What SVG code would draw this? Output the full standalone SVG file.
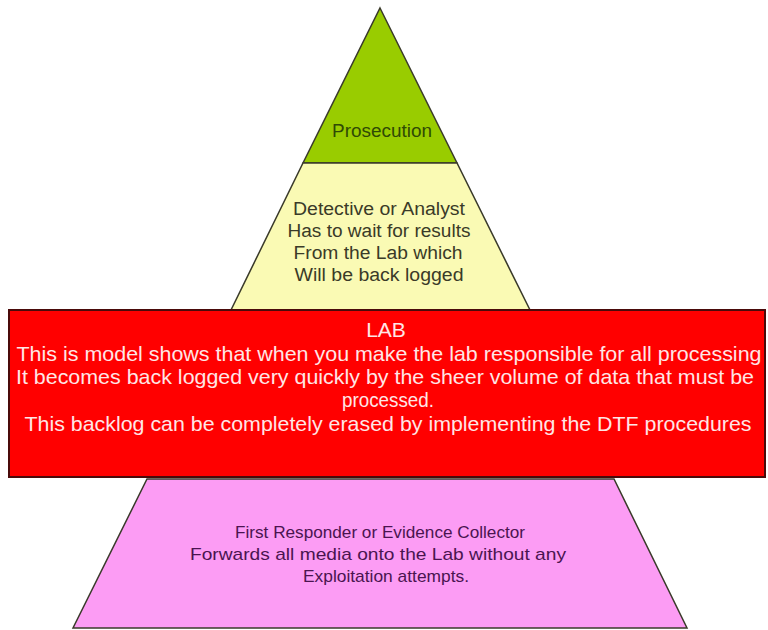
<svg xmlns="http://www.w3.org/2000/svg" width="768" height="630" viewBox="0 0 768 630">
<style>
.layer{stroke:#3a3a2a;stroke-width:1.5;stroke-linejoin:miter}
.t{font-family:"Liberation Sans",Arial,sans-serif;text-anchor:middle}
.g{font-size:18px;fill:#2f4a05}
.y{font-size:18px;fill:#3a3a28}
.r{font-size:21px;fill:#ffe6e6}
.p{font-size:17px;fill:#4a1450}
</style>
<rect width="768" height="630" fill="#ffffff"/>
<g id="prosecution">
<polygon class="layer" points="380,8 457,163 303,163" fill="#99cc00"/>
<text class="t g" x="382" y="137" textLength="100" lengthAdjust="spacingAndGlyphs">Prosecution</text>
</g>
<g id="detective">
<polygon class="layer" points="303,163 457,163 530,310 231,310" fill="#fafab4"/>
<text class="t y" x="379" y="215" textLength="172" lengthAdjust="spacingAndGlyphs">Detective or Analyst</text>
<text class="t y" x="379" y="237" textLength="183" lengthAdjust="spacingAndGlyphs">Has to wait for results</text>
<text class="t y" x="378" y="259" textLength="169" lengthAdjust="spacingAndGlyphs">From the Lab which</text>
<text class="t y" x="379" y="281" textLength="169" lengthAdjust="spacingAndGlyphs">Will be back logged</text>
</g>
<g id="first-responder">
<polygon class="layer" points="147,479 614,479 687,628 73,628" fill="#fc9cf4"/>
<text class="t p" x="380" y="538" textLength="290" lengthAdjust="spacingAndGlyphs">First Responder or Evidence Collector</text>
<text class="t p" x="378" y="560" textLength="376" lengthAdjust="spacingAndGlyphs">Forwards all media onto the Lab without any</text>
<text class="t p" x="386" y="582" textLength="166" lengthAdjust="spacingAndGlyphs">Exploitation attempts.</text>
</g>
<g id="lab">
<rect x="9" y="310" width="756" height="167" fill="#ff0000" stroke="#4a0a0a" stroke-width="2"/>
<text class="t r" x="386" y="337">LAB</text>
<text class="t r" x="389" y="361" textLength="745" lengthAdjust="spacingAndGlyphs">This is model shows that when you make the lab responsible for all processing</text>
<text class="t r" x="385" y="384" textLength="738" lengthAdjust="spacingAndGlyphs">It becomes back logged very quickly by the sheer volume of data that must be</text>
<text class="t r" x="388" y="407" textLength="92" lengthAdjust="spacingAndGlyphs">processed.</text>
<text class="t r" x="388" y="431" textLength="727" lengthAdjust="spacingAndGlyphs">This backlog can be completely erased by implementing the DTF procedures</text>
</g>
<g id="connectors"></g>
</svg>
